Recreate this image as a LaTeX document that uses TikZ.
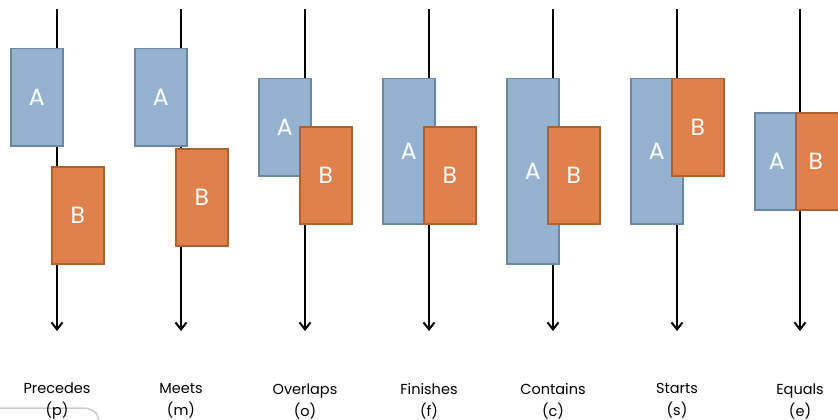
\documentclass[tikz,border=0pt]{standalone}
\usepackage{fontspec}
\setmainfont{Poppins}
\usetikzlibrary{arrows.meta}
\definecolor{afill}{HTML}{95B3D1}
\definecolor{aedge}{HTML}{6B87A1}
\definecolor{bfill}{HTML}{E0804A}
\definecolor{bedge}{HTML}{B0602E}
\begin{document}
\begin{tikzpicture}[x=1pt,y=-1pt,
  axis/.style={line width=2pt,-{Straight Barb[length=7pt,width=11pt,line width=2pt]}},
  abox/.style={draw=aedge,fill=afill,line width=1.5pt},
  bbox/.style={draw=bedge,fill=bfill,line width=1.5pt},
  lt/.style={text=white,font=\fontsize{23.5}{23.5}\selectfont},
  lab/.style={font=\fontsize{14.5}{22}\selectfont,align=center,anchor=center}]
\useasboundingbox (0,0) rectangle (838,420);
\draw[gray!40,line width=1.5pt,rounded corners=8pt] (0,408) -- (92,408) -- (100,418) -- (100,420);
\foreach \i/\x/\n/\s in {1/57/Precedes/p,2/181/Meets/m,3/305/Overlaps/o,4/429/Finishes/f,5/553/Contains/c,6/677/Starts/s,7/800/Equals/e}{
  \coordinate (t\i) at (\x,9);
  \coordinate (e\i) at (\x,331);
  \draw[axis] (t\i) -- (e\i);
  \node[lab] (l\i) at (\x,401) {\n\\(\s)};
}
% Precedes
\node[abox,minimum width=52pt,minimum height=97pt,anchor=north west] (a1) at (10,48) {}; \node[lt] at (a1) {A};
\node[bbox,minimum width=52pt,minimum height=97pt,anchor=north west] (b1) at (51,166) {}; \node[lt] at (b1) {B};
% Meets
\node[abox,minimum width=52pt,minimum height=97pt,anchor=north west] (a2) at (134,48) {}; \node[lt] at (a2) {A};
\node[bbox,minimum width=52pt,minimum height=97pt,anchor=north west] (b2) at (175,148) {}; \node[lt] at (b2) {B};
% Overlaps
\node[abox,minimum width=52pt,minimum height=97pt,anchor=north west] (a3) at (258,78) {}; \node[lt] at (a3) {A};
\node[bbox,minimum width=52pt,minimum height=97pt,anchor=north west] (b3) at (299,126) {}; \node[lt] at (b3) {B};
% Finishes
\node[abox,minimum width=52pt,minimum height=145pt,anchor=north west] (a4) at (382,78) {}; \node[lt] at (a4) {A};
\node[bbox,minimum width=52pt,minimum height=97pt,anchor=north west] (b4) at (423,126) {}; \node[lt] at (b4) {B};
% Contains
\node[abox,minimum width=52pt,minimum height=185pt,anchor=north west] (a5) at (506,78) {}; \node[lt] at (a5) {A};
\node[bbox,minimum width=52pt,minimum height=97pt,anchor=north west] (b5) at (547,126) {}; \node[lt] at (b5) {B};
% Starts
\node[abox,minimum width=52pt,minimum height=145pt,anchor=north west] (a6) at (630,78) {}; \node[lt] at (a6) {A};
\node[bbox,minimum width=52pt,minimum height=97pt,anchor=north west] (b6) at (671,78) {}; \node[lt] at (b6) {B};
% Equals
\node[abox,minimum width=52pt,minimum height=97pt,anchor=north west] (a7) at (754,112) {}; \node[lt] at ([xshift=-4pt]a7.center) {A};
\node[bbox,minimum width=52pt,minimum height=97pt,anchor=north west] (b7) at (795,112) {}; \node[lt] at ([xshift=-6pt]b7.center) {B};
\end{tikzpicture}
\end{document}
